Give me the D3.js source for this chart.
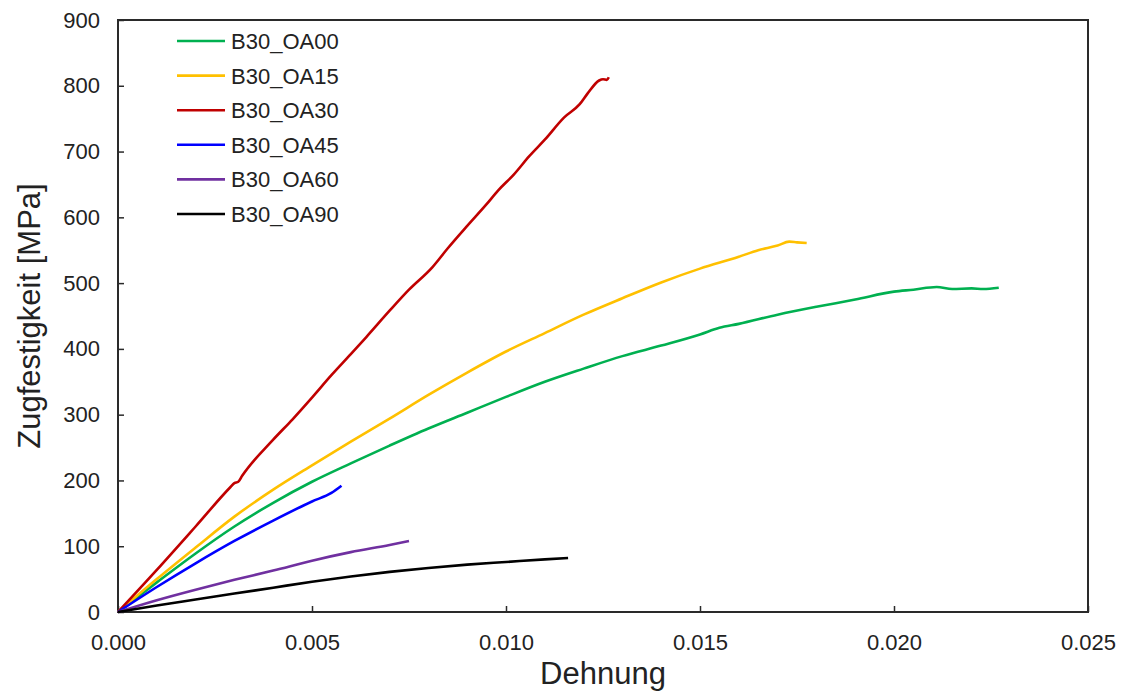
<!DOCTYPE html>
<html>
<head>
<meta charset="utf-8">
<script src="https://cdn.jsdelivr.net/npm/d3@7"></script>
<style>
  body { margin: 0; background: #fff; }
  text { font-family: "Liberation Sans", Arial, sans-serif; fill: #222; }
</style>
</head>
<body>
<div id="chart"></div>
<script>
// Series names (legend order)
const seriesNames = ["B30_OA00", "B30_OA15", "B30_OA30", "B30_OA45", "B30_OA60", "B30_OA90"];
const seriesColors = ["#00B050", "#FFC000", "#C00000", "#0000FF", "#7030A0", "#000000"];

// [Dehnung, Zugfestigkeit MPa]
const oa00 = [[0,0],[0.001,45],[0.002,89],[0.003,130],[0.004,166],[0.005,198],[0.006,226],[0.007,253],[0.008,279],[0.009,303],[0.010,327],[0.011,350],[0.012,370],[0.013,389],[0.014,405],[0.015,422],[0.0155,432],[0.016,438],[0.017,452],[0.018,464],[0.019,475],[0.020,487],[0.0205,490],[0.0211,494],[0.0215,491],[0.022,492],[0.0223,491],[0.0227,493]];
const oa15 = [[0,0],[0.001,50],[0.002,98],[0.003,145],[0.004,186],[0.005,223],[0.006,259],[0.007,294],[0.008,330],[0.009,364],[0.010,396],[0.011,424],[0.012,452],[0.013,477],[0.014,501],[0.015,522],[0.016,540],[0.0165,550],[0.017,557],[0.0173,563],[0.0175,562],[0.01775,561]];
const oa30 = [[0,0],[0.001,64],[0.002,130],[0.0029,190],[0.0030,196],[0.0031,198],[0.0032,207],[0.0040,262],[0.0045,293],[0.0050,326],[0.0055,360],[0.0060,392],[0.0064,418],[0.0070,458],[0.0075,490],[0.0081,524],[0.0085,553],[0.0090,587],[0.0095,620],[0.0098,641],[0.0102,665],[0.0106,693],[0.0110,718],[0.0115,752],[0.0119,772],[0.0121,788],[0.0124,808],[0.0125,810],[0.0126,809],[0.01265,813]];
const oa45 = [[0,0],[0.001,38],[0.002,74],[0.003,108],[0.004,139],[0.005,168],[0.0055,181],[0.00576,192]];
const oa60 = [[0,0],[0.001,18],[0.002,34],[0.003,49],[0.004,63],[0.005,78],[0.006,91],[0.007,102],[0.0075,108]];
const oa90 = [[0,0],[0.001,10],[0.002,19],[0.003,28],[0.004,37],[0.005,46],[0.006,54],[0.007,61],[0.008,67],[0.009,72],[0.010,76],[0.011,80],[0.0116,82]];
const allSeries = [oa00, oa15, oa30, oa45, oa60, oa90];

const xTicks = [0, 0.005, 0.010, 0.015, 0.020, 0.025];
const yTicks = [0, 100, 200, 300, 400, 500, 600, 700, 800, 900];

const W = 1121, H = 693;
const plot = { left: 118, right: 1088, top: 20, bottom: 612 };

const svg = d3.select("#chart").append("svg")
    .attr("width", W).attr("height", H);

const x = d3.scaleLinear().domain([0, 0.025]).range([plot.left, plot.right]);
const y = d3.scaleLinear().domain([0, 900]).range([plot.bottom, plot.top]);

// frame
svg.append("rect")
   .attr("x", plot.left).attr("y", plot.top)
   .attr("width", plot.right - plot.left).attr("height", plot.bottom - plot.top)
   .attr("fill", "none").attr("stroke", "#2a2a2a").attr("stroke-width", 2);

// x axis (ticks inward)
const xAxis = svg.append("g")
   .attr("transform", `translate(0,${plot.bottom})`)
   .call(d3.axisBottom(x).tickValues(xTicks).tickFormat(d3.format(".3f")).tickSizeInner(-6).tickSizeOuter(0).tickPadding(22));
xAxis.select(".domain").remove();
xAxis.selectAll("line").attr("stroke", "#2a2a2a").attr("stroke-width", 1.5);
xAxis.selectAll("text").attr("font-size", 22).attr("fill", "#222")
   .style("font-family", "'Liberation Sans', Arial, sans-serif");

// y axis
const yAxis = svg.append("g")
   .attr("transform", `translate(${plot.left},0)`)
   .call(d3.axisLeft(y).tickValues(yTicks).tickSizeInner(-6).tickSizeOuter(0).tickPadding(18));
yAxis.select(".domain").remove();
yAxis.selectAll("line").attr("stroke", "#2a2a2a").attr("stroke-width", 1.5);
yAxis.selectAll("text").attr("font-size", 22).attr("fill", "#222")
   .style("font-family", "'Liberation Sans', Arial, sans-serif");

// curves
const line = d3.line().x(d => x(d[0])).y(d => y(d[1])).curve(d3.curveMonotoneX);
svg.selectAll("path.curve")
   .data(allSeries)
   .enter()
   .append("path")
   .attr("class", "curve")
   .attr("d", line)
   .attr("fill", "none")
   .attr("stroke", (d, i) => seriesColors[i])
   .attr("stroke-width", 2.6)
   .attr("stroke-linejoin", "round");

// legend
const legend = svg.append("g");
seriesNames.forEach((name, i) => {
    const ly = 41 + i * 34.6;
    legend.append("line")
       .attr("x1", 177).attr("x2", 225).attr("y1", ly).attr("y2", ly)
       .attr("stroke", seriesColors[i]).attr("stroke-width", 2.6);
    legend.append("text")
       .attr("x", 231).attr("y", ly + 8)
       .attr("font-size", 22)
       .text(name);
});

// axis titles
svg.append("text")
   .attr("x", 603).attr("y", 684)
   .attr("text-anchor", "middle")
   .attr("font-size", 31)
   .text("Dehnung");

svg.append("text")
   .attr("transform", "translate(40,316) rotate(-90)")
   .attr("text-anchor", "middle")
   .attr("font-size", 31)
   .text("Zugfestigkeit [MPa]");
</script>
</body>
</html>
